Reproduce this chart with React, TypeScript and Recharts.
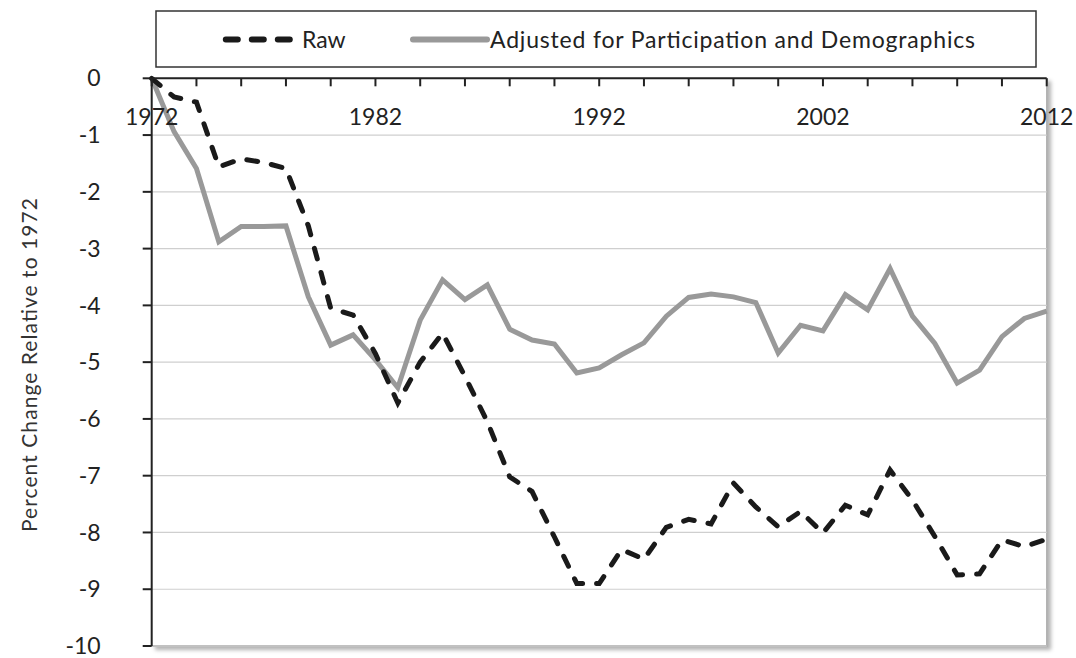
import {
  LineChart,
  Line,
  XAxis,
  YAxis,
  CartesianGrid,
  Legend,
} from "recharts";

const years = [
  1972, 1973, 1974, 1975, 1976, 1977, 1978, 1979, 1980, 1981, 1982, 1983, 1984,
  1985, 1986, 1987, 1988, 1989, 1990, 1991, 1992, 1993, 1994, 1995, 1996, 1997,
  1998, 1999, 2000, 2001, 2002, 2003, 2004, 2005, 2006, 2007, 2008, 2009, 2010,
  2011, 2012,
];

const rawChange = [
  0, -0.33, -0.42, -1.56, -1.42, -1.48, -1.59, -2.6, -4.05, -4.17, -4.85, -5.72,
  -5.0, -4.49, -5.25, -6.05, -7.02, -7.28, -8.08, -8.9, -8.9, -8.3, -8.47, -7.91,
  -7.77, -7.85, -7.13, -7.55, -7.9, -7.63, -8.01, -7.52, -7.69, -6.9, -7.43,
  -8.07, -8.75, -8.73, -8.13, -8.25, -8.12,
];

const adjustedChange = [
  0, -0.94, -1.59, -2.88, -2.61, -2.61, -2.6, -3.85, -4.7, -4.52, -4.96, -5.45,
  -4.26, -3.55, -3.9, -3.64, -4.42, -4.61, -4.68, -5.19, -5.1, -4.87, -4.66,
  -4.19, -3.86, -3.8, -3.85, -3.95, -4.84, -4.35, -4.45, -3.81, -4.08, -3.35,
  -4.19, -4.67, -5.37, -5.14, -4.55, -4.23, -4.1,
];

const yearTicks = [
  1972, 1974, 1976, 1978, 1980, 1982, 1984, 1986, 1988, 1990, 1992, 1994, 1996,
  1998, 2000, 2002, 2004, 2006, 2008, 2010, 2012,
];
const labeledYears = [1972, 1982, 1992, 2002, 2012];
const valueTicks = [0, -1, -2, -3, -4, -5, -6, -7, -8, -9, -10];

const rawName = "Raw";
const adjustedName = "Adjusted for Participation and Demographics";
const yTitle = "Percent Change Relative to 1972";

const data = years.map((year, i) => ({
  year,
  raw: rawChange[i],
  adjusted: adjustedChange[i],
}));

const FONT = "Lato, 'Open Sans', sans-serif";

function YearTick(props: any) {
  const { x, y, payload } = props;
  if (!labeledYears.includes(payload.value)) return <g />;
  return (
    <text x={x} y={y + 31} textAnchor="middle" fill="#222" fontSize={23}>
      {payload.value}
    </text>
  );
}

function LegendBox() {
  return (
    <svg width={882} height={58} style={{ display: "block" }}>
      <rect x={1} y={1} width={880} height={56} fill="#fff" stroke="#333" strokeWidth={1.5} />
      <line
        x1={70.8}
        y1={29.5}
        x2={135}
        y2={29.5}
        stroke="#1a1a1a"
        strokeWidth={6}
        strokeDasharray="12 14"
        strokeLinecap="round"
      />
      <text x={147} y={37.5} fontSize={23} fill="#222">
        {rawName}
      </text>
      <line
        x1={258}
        y1={29.5}
        x2={332}
        y2={29.5}
        stroke="#999"
        strokeWidth={6}
        strokeLinecap="round"
      />
      <text
        x={335}
        y={37.5}
        fontSize={23}
        fill="#222"
        textLength={485}
        lengthAdjust="spacing"
      >
        {adjustedName}
      </text>
    </svg>
  );
}

export default function App() {
  return (
    <div
      style={{
        position: "absolute",
        left: 0,
        top: 0,
        width: 1076,
        height: 658,
        background: "#fff",
        fontFamily: FONT,
      }}
    >
      {/* plot frame with Excel-like shadow */}
      <div
        style={{
          position: "absolute",
          left: 152,
          top: 78,
          width: 896,
          height: 569,
          boxSizing: "border-box",
          borderRight: "2px solid #b3b3b3",
          borderBottom: "2px solid #b3b3b3",
          boxShadow: "3px 3px 4px rgba(0,0,0,0.3)",
          background: "#fff",
        }}
      />
      <LineChart
        width={1076}
        height={658}
        data={data}
        margin={{ top: 78.3, right: 29.3, bottom: 12, left: 0 }}
      >
        <CartesianGrid vertical={false} stroke="#cfcfcf" strokeWidth={1.2} />
        <XAxis
          dataKey="year"
          type="number"
          domain={[1972, 2012]}
          ticks={yearTicks}
          interval={0}
          orientation="top"
          mirror
          tickSize={8}
          tickMargin={8}
          axisLine={{ stroke: "#222", strokeWidth: 2 }}
          tickLine={{ stroke: "#222", strokeWidth: 2 }}
          tick={<YearTick />}
        />
        <YAxis
          type="number"
          domain={[-10, 0]}
          ticks={valueTicks}
          interval={0}
          width={151.7}
          tickSize={9}
          tickMargin={42}
          axisLine={{ stroke: "#222", strokeWidth: 2 }}
          tickLine={{ stroke: "#222", strokeWidth: 2 }}
          tick={{ fill: "#222", fontSize: 23 }}
          label={{
            content: () => (
              <text
                transform="translate(36.5,365) rotate(-90)"
                textAnchor="middle"
                fontSize={21}
                fill="#333"
                textLength={334}
                lengthAdjust="spacing"
              >
                {yTitle}
              </text>
            ),
          }}
        />
        <Legend
          layout="horizontal"
          verticalAlign="middle"
          align="center"
          wrapperStyle={{ top: 10, left: 155, width: 882, height: 58 }}
          content={() => <LegendBox />}
        />
        <Line
          type="linear"
          dataKey="adjusted"
          name={adjustedName}
          stroke="#999"
          strokeWidth={5}
          dot={false}
          activeDot={false}
          isAnimationActive={false}
        />
        <Line
          type="linear"
          dataKey="raw"
          name={rawName}
          stroke="#1a1a1a"
          strokeWidth={5}
          strokeDasharray="11 14"
          strokeLinecap="round"
          dot={false}
          activeDot={false}
          isAnimationActive={false}
        />
      </LineChart>
    </div>
  );
}
